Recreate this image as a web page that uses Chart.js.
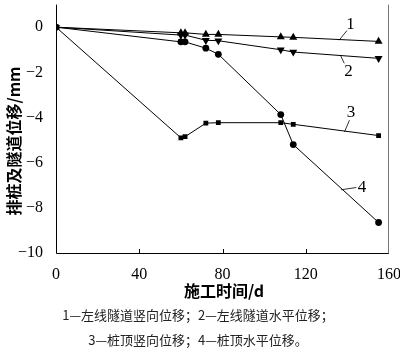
<!DOCTYPE html>
<html><head><meta charset="utf-8">
<script src="https://cdn.jsdelivr.net/npm/chart.js@4/dist/chart.umd.min.js"></script>
<style>html,body{margin:0;padding:0;background:#fff}#wrap{width:400px;height:351px;position:relative}</style>
</head><body><div id="wrap"><canvas id="c" width="400" height="351"></canvas></div>
<script>
const days = [0, 60, 62, 72, 78, 108, 114, 155];
const s1 = [0, -0.25, -0.25, -0.32, -0.32, -0.43, -0.45, -0.63];
const s2 = [0, -0.35, -0.35, -0.58, -0.6, -1.0, -1.1, -1.38];
const s3 = [0, -4.9, -4.85, -4.25, -4.23, -4.23, -4.3, -4.8];
const s4 = [0, -0.65, -0.65, -0.93, -1.2, -3.87, -5.2, -8.65];
const xTicks = [0, 40, 80, 120, 160];
const yTicks = [-10, -8, -6, -4, -2, 0];
const seriesLabels = ['1', '2', '3', '4'];
const xTitle = '施工时间/d';
const yTitle = '排桩及隧道位移/mm';
const caption1 = '1—左线隧道竖向位移；2—左线隧道水平位移；';
const caption2 = '3—桩顶竖向位移；4—桩顶水平位移。';
// label callouts in data units: [lineFromX, lineFromY, lineToX, lineToY, textX, textY]
const callouts = [
  [136, -0.58, 139.8, -0.15, 141.5, 0.11],
  [136.6, -1.23, 138.5, -1.6, 140.5, -1.95],
  [138.6, -4.64, 141, -4.12, 141.8, -3.8],
  [137, -7.2, 144.3, -7.1, 147, -7.1]
];
const mk = (arr) => days.map((d, i) => ({x: d, y: arr[i]}));
const styles = ['triangle', 'triangle', 'rect', 'circle'];
const rots = [0, 180, 0, 0];
const radii = [4.6, 4.6, 3.4, 3.4];
const sets = [s1, s2, s3, s4].map((a, i) => ({
  label: seriesLabels[i], data: mk(a), borderColor: '#000', backgroundColor: '#000',
  borderWidth: 1, pointStyle: styles[i], rotation: rots[i],
  pointRadius: radii[i], pointBorderWidth: 0, tension: 0
}));
const serif = "Liberation Serif";
const cjk = "Noto Sans CJK SC";
Chart.defaults.font.family = serif;
const deco = {
  id: 'deco',
  afterDraw(chart) {
    const {ctx, chartArea: a, scales: {x, y}} = chart;
    ctx.save();
    ctx.strokeStyle = '#000'; ctx.lineWidth = 1;
    ctx.beginPath();
    ctx.moveTo(a.left + 0.5, a.top); ctx.lineTo(a.left + 0.5, a.bottom + 0.5);
    ctx.lineTo(a.right, a.bottom + 0.5);
    ctx.stroke();
    ctx.strokeStyle = '#777';
    ctx.beginPath(); ctx.moveTo(a.right - 0.5, a.top); ctx.lineTo(a.right - 0.5, a.bottom + 0.5); ctx.stroke();
    ctx.strokeStyle = '#000';
    xTicks.slice(1, -1).forEach(v => {
      const px = Math.round(x.getPixelForValue(v)) + 0.5;
      ctx.beginPath(); ctx.moveTo(px, a.bottom); ctx.lineTo(px, a.bottom - 4); ctx.stroke();
    });
    ctx.lineWidth = 0.8;
    callouts.forEach((c, i) => {
      ctx.beginPath();
      ctx.moveTo(x.getPixelForValue(c[0]), y.getPixelForValue(c[1]));
      ctx.lineTo(x.getPixelForValue(c[2]), y.getPixelForValue(c[3]));
      ctx.stroke();
      ctx.fillStyle = '#000';
      ctx.font = "17px 'Liberation Serif'";
      ctx.textAlign = 'center'; ctx.textBaseline = 'middle';
      ctx.fillText(seriesLabels[i], x.getPixelForValue(c[4]), y.getPixelForValue(c[5]));
    });
    ctx.fillStyle = '#000';
    ctx.font = "bold 16px 'Noto Sans CJK SC'";
    ctx.textAlign = 'center'; ctx.textBaseline = 'middle';
    ctx.fillText(xTitle, 224, 291);
    ctx.save();
    ctx.translate(14, 141); ctx.rotate(-Math.PI / 2);
    ctx.fillText(yTitle, 0, 0);
    ctx.restore();
    ctx.font = "13px 'Noto Sans CJK SC'";
    ctx.fillStyle = '#222';
    ctx.fillText(caption1, 198, 315);
    ctx.fillText(caption2, 198, 340);
    ctx.restore();
  }
};
new Chart(document.getElementById('c'), {
  type: 'line',
  data: {datasets: sets},
  plugins: [deco],
  options: {
    responsive: false, animation: false,
    layout: {padding: {top: 0, right: 11, left: 0, bottom: 0}},
    plugins: {legend: {display: false}, tooltip: {enabled: false}},
    scales: {
      x: {
        type: 'linear', min: 0, max: 160,
        afterBuildTicks: s => { s.ticks = xTicks.map(v => ({value: v})); },
        afterFit: s => { s.height = 98; s.paddingLeft = 0; s.paddingRight = 0; },
        grid: {display: false}, border: {display: false},
        ticks: {color: '#000', font: {family: "'Liberation Serif'", size: 16}, padding: 4, maxRotation: 0}
      },
      y: {
        type: 'linear', min: -10, max: 1,
        afterBuildTicks: s => { s.ticks = yTicks.map(v => ({value: v})); },
        afterFit: s => { s.width = 56; s.paddingTop = 0; s.paddingBottom = 0; },
        grid: {display: false}, border: {display: false},
        ticks: {color: '#000', font: {family: "'Liberation Serif'", size: 16}, padding: 5,
          callback: v => String(v).replace('-', '\u2212')}
      }
    }
  }
});
</script></body></html>
